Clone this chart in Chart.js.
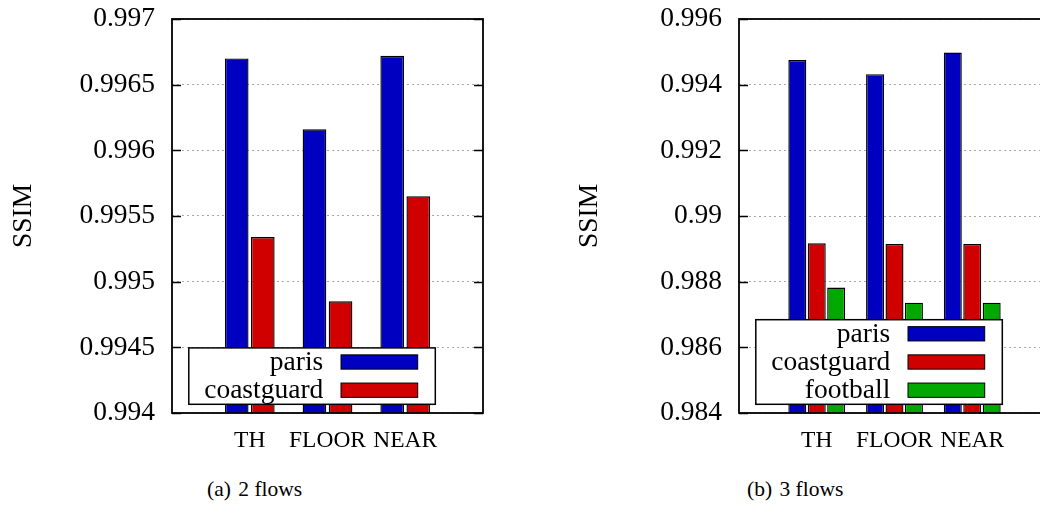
<!DOCTYPE html>
<html>
<head>
<meta charset="utf-8">
<script src="https://cdn.jsdelivr.net/npm/chart.js@4"></script>
<style>
  html, body { margin: 0; padding: 0; background: #fff; overflow: hidden; }
  body { width: 1040px; height: 526px; position: relative; }
  canvas { position: absolute; top: 0; }
  #flows2 { left: 0; }
  #flows3 { left: 566px; }
  .cap {
    position: absolute; top: 477px;
    font: 21.5px "Liberation Serif", serif; color: #000;
    white-space: pre;
  }
  .cap span { margin-right: 2px; }
</style>
</head>
<body>
<canvas id="flows2" width="530" height="470"></canvas>
<canvas id="flows3" width="484" height="470"></canvas>
<div class="cap" style="left:207px"><span>(a)</span> 2 flows</div>
<div class="cap" style="left:747px"><span>(b)</span> 3 flows</div>
<script>
const categories = ["TH", "FLOOR", "NEAR"];

// 2 flows
const paris2      = [0.99670, 0.99616, 0.99672];
const coastguard2 = [0.99534, 0.99485, 0.99565];
const ticks2      = [0.994, 0.9945, 0.995, 0.9955, 0.996, 0.9965, 0.997];

// 3 flows
const paris3      = [0.99475, 0.99432, 0.99498];
const coastguard3 = [0.98917, 0.98915, 0.98915];
const football3   = [0.98782, 0.98736, 0.98736];
const ticks3      = [0.984, 0.986, 0.988, 0.99, 0.992, 0.994, 0.996];

const BLUE  = "#0000c0";
const RED   = "#d00000";
const GREEN = "#00a800";
const SERIF = '"Liberation Serif", "Times New Roman", serif';

// empty slots at both ends so the three groups sit at 1/4, 2/4, 3/4 of the width
const padLabels = ["", ...categories, ""];
const pad = arr => [null, ...arr, null];

// frame, inward tick marks and a boxed key in the lower right of the plot
const gnuFrame = {
  id: "gnuFrame",
  afterDatasetsDraw(chart, args, opts) {
    const { ctx, chartArea: a } = chart;
    const y = chart.scales.y;
    ctx.save();
    ctx.strokeStyle = "#000";
    ctx.lineWidth = 1.6;
    ctx.beginPath();
    y.ticks.forEach(t => {
      const py = Math.round(y.getPixelForValue(t.value)) + 0.5;
      ctx.moveTo(a.left, py);  ctx.lineTo(a.left + 9, py);
      ctx.moveTo(a.right, py); ctx.lineTo(a.right - 9, py);
    });
    ctx.stroke();
    ctx.lineWidth = 1.8;
    ctx.strokeRect(a.left, a.top, a.right - a.left, a.bottom - a.top);

    // key
    const sets = chart.data.datasets;
    const rowH = 28.2, boxW = 246.5, boxH = rowH * sets.length;
    const x1 = a.right - opts.right - boxW;
    const y1 = a.bottom - opts.bottom - boxH;
    ctx.fillStyle = "#fff";
    ctx.fillRect(x1, y1, boxW, boxH);
    ctx.lineWidth = 1.5;
    ctx.strokeRect(x1, y1, boxW, boxH);
    const swW = 76.7, swH = 14.3;
    const swX = x1 + boxW - 17.6 - swW;
    ctx.font = "27.5px " + SERIF;
    ctx.textAlign = "right";
    ctx.textBaseline = "middle";
    sets.forEach((ds, i) => {
      const cy = y1 + rowH * (i + 0.5);
      ctx.fillStyle = ds.backgroundColor;
      ctx.fillRect(swX, cy - swH / 2, swW, swH);
      ctx.lineWidth = 1;
      ctx.strokeRect(swX, cy - swH / 2, swW, swH);
      ctx.fillStyle = "#000";
      ctx.fillText(ds.label, swX - 17.7, cy + 1);
    });
    ctx.restore();
  }
};

function makeChart(id, datasets, tickValues, yAxisWidth, rightPad, catPct, barPct) {
  return new Chart(document.getElementById(id), {
    type: "bar",
    data: {
      labels: padLabels,
      datasets: datasets.map(d => ({
        label: d.label,
        data: pad(d.data),
        backgroundColor: d.color,
        borderColor: "#000",
        borderWidth: 1.4,
        borderSkipped: false,
        categoryPercentage: catPct,
        barPercentage: barPct
      }))
    },
    options: {
      responsive: false,
      animation: false,
      devicePixelRatio: 1,
      layout: { padding: { top: 19, right: rightPad, left: 0, bottom: 0 } },
      plugins: {
        legend: { display: false },
        tooltip: { enabled: false },
        gnuFrame: { right: 47.7, bottom: 8.7 }
      },
      scales: {
        x: {
          offset: false,
          grid: { display: false, drawTicks: false },
          border: { display: false },
          ticks: {
            color: "#000",
            padding: 14,
            maxRotation: 0,
            autoSkip: false,
            font: { family: SERIF, size: 23.5 }
          },
          // fixed axis height, no extra side padding from the labels
          afterFit: s => {
            s.height = 57;
            s.paddingLeft = 0;
            s.paddingRight = 0;
          }
        },
        y: {
          min: tickValues[0],
          max: tickValues[tickValues.length - 1],
          afterBuildTicks: s => { s.ticks = tickValues.map(v => ({ value: v })); },
          grid: { color: "#a8a8a8", lineWidth: 1, drawTicks: false },
          border: { display: false, dash: [2, 3] },
          ticks: {
            color: "#000",
            padding: 17,
            font: { family: SERIF, size: 27.5 },
            callback: v => String(+v.toFixed(4))
          },
          title: {
            display: true,
            text: "SSIM",
            color: "#000",
            padding: 7,
            font: { family: SERIF, size: 27.5 }
          },
          afterFit: s => {
            s.width = yAxisWidth;
            s.paddingTop = 0;
            s.paddingBottom = 0;
          }
        }
      }
    },
    plugins: [gnuFrame]
  });
}

makeChart("flows2", [
  { label: "paris", data: paris2, color: BLUE },
  { label: "coastguard", data: coastguard2, color: RED }
], ticks2, 172, 47, 0.671, 0.908);

makeChart("flows3", [
  { label: "paris", data: paris3, color: BLUE },
  { label: "coastguard", data: coastguard3, color: RED },
  { label: "football", data: football3, color: GREEN }
], ticks3, 173, 0, 0.75, 0.925);
</script>
</body>
</html>
